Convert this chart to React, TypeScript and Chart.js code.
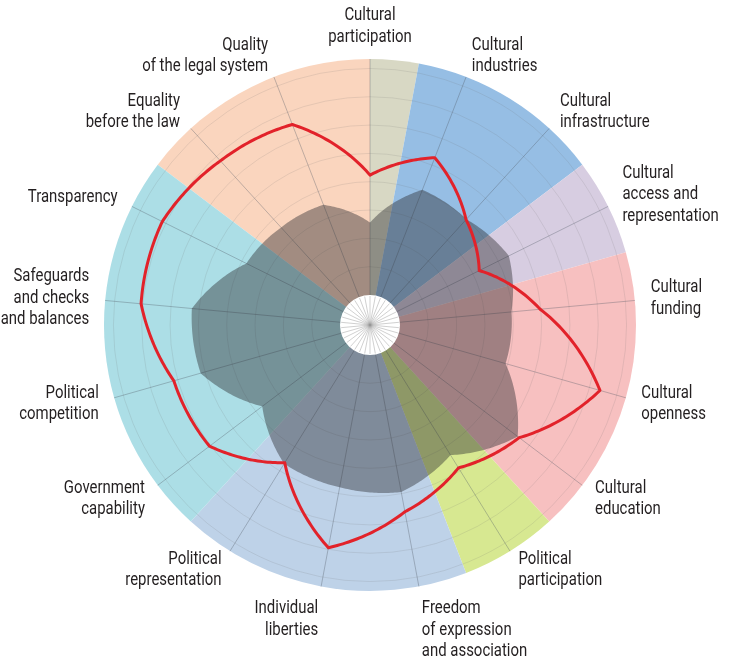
import React, { useEffect, useRef } from 'react';
import { Chart, registerables } from 'chart.js';

Chart.register(...registerables);

// ---- data ----
const categories: string[][] = [
  ['Cultural', 'participation'],
  ['Cultural', 'industries'],
  ['Cultural', 'infrastructure'],
  ['Cultural', 'access and', 'representation'],
  ['Cultural', 'funding'],
  ['Cultural', 'openness'],
  ['Cultural', 'education'],
  ['Political', 'participation'],
  ['Freedom', 'of expression', 'and association'],
  ['Individual', 'liberties'],
  ['Political', 'representation'],
  ['Government', 'capability'],
  ['Political', 'competition'],
  ['Safeguards', 'and checks', 'and balances'],
  ['Transparency'],
  ['Equality', 'before the law'],
  ['Quality', 'of the legal system'],
];

// red outline series
const redValues = [50.8, 63.3, 47.7, 39.0, 59.7, 88.6, 66.5, 58.5, 67.8, 83.3, 55.9, 72.5, 73.7, 84.7, 85.6, 81.4, 78.4];
// grey filled series
const grayValues = [30.7, 48.7, 47.9, 53.0, 47.5, 47.0, 65.7, 52.1, 59.3, 57.2, 56.4, 44.5, 61.9, 63.1, 45.8, 43.2, 41.9];

// concentric ring values
const ringTicks = [12, 24, 36, 48, 60, 72, 84, 96];
const scaleMin = -12.7;
const scaleMax = 100;

// background sector groups (bounds in category-index units)
const groupBounds = [-2.5, 0, 0.5, 2.5, 3.5, 6.5, 7.5, 10.5, 14.5];
const groupColors = ['#fad5be', '#d8d8c4', '#96bee4', '#d7cde1', '#f7c0c0', '#d7e891', '#bed2e8', '#acdee6'];

const GRAY_FILL = 'rgba(40,40,45,0.42)';
const RED = '#e2222a';
const LABEL_FONT = '18px Roboto, "Noto Sans", sans-serif';
const LABEL_SQUEEZE = 0.83;

function polarPath(ctx: CanvasRenderingContext2D, s: any, values: number[]) {
  const n = values.length;
  const steps = 30;
  ctx.beginPath();
  for (let i = 0; i < n; i++) {
    const v0 = values[i];
    const v1 = values[(i + 1) % n];
    for (let k = 0; k < steps; k++) {
      const t = k / steps;
      const p = s.getPointPositionForValue(i + t, v0 + (v1 - v0) * t);
      if (i === 0 && k === 0) ctx.moveTo(p.x, p.y);
      else ctx.lineTo(p.x, p.y);
    }
  }
  ctx.closePath();
}

const decorPlugin = {
  id: 'radarDecor',
  beforeDraw(chart: any) {
    const s = chart.scales.r;
    const ctx = chart.ctx as CanvasRenderingContext2D;
    const n = chart.data.labels.length;
    const R = s.drawingArea;
    ctx.save();
    for (let g = 0; g < groupColors.length; g++) {
      const from = groupBounds[g];
      const to = groupBounds[g + 1];
      const a0 = s.getPointPosition(from, R).angle;
      const a1 = a0 + ((to - from) * 2 * Math.PI) / n;
      ctx.beginPath();
      ctx.moveTo(s.xCenter, s.yCenter);
      ctx.arc(s.xCenter, s.yCenter, R, a0, a1, false);
      ctx.closePath();
      ctx.fillStyle = groupColors[g];
      ctx.fill();
    }
    ctx.restore();
  },
  afterDatasetsDraw(chart: any) {
    const s = chart.scales.r;
    const ctx = chart.ctx as CanvasRenderingContext2D;
    const n = chart.data.labels.length;
    const gray = chart.data.datasets[0].data as number[];
    const red = chart.data.datasets[1].data as number[];
    ctx.save();
    // grey filled shape
    polarPath(ctx, s, gray);
    ctx.fillStyle = GRAY_FILL;
    ctx.fill();
    // red outline
    polarPath(ctx, s, red);
    ctx.strokeStyle = RED;
    ctx.lineWidth = 3;
    ctx.lineJoin = 'round';
    ctx.stroke();
    // white hub
    const hubR = s.getDistanceFromCenterForValue(0);
    ctx.beginPath();
    ctx.arc(s.xCenter, s.yCenter, hubR, 0, Math.PI * 2);
    ctx.fillStyle = '#ffffff';
    ctx.fill();
    ctx.strokeStyle = 'rgba(150,150,150,0.45)';
    ctx.lineWidth = 1;
    for (let i = 0; i < n * 2; i++) {
      const p = s.getPointPosition(i / 2, hubR - 1);
      ctx.beginPath();
      ctx.moveTo(s.xCenter, s.yCenter);
      ctx.lineTo(p.x, p.y);
      ctx.stroke();
    }
    // labels
    ctx.font = LABEL_FONT;
    ctx.fillStyle = '#231f20';
    ctx.textBaseline = 'middle';
    const lh = 21.5;
    categories.forEach((lines, i) => {
      const p = s.getPointPosition(i, s.drawingArea + 16);
      const ang = (i * 2 * Math.PI) / n;
      const sin = Math.sin(ang);
      const cos = Math.cos(ang);
      ctx.textAlign = sin > 0.01 ? 'left' : sin < -0.01 ? 'right' : 'center';
      const h = lines.length * lh;
      let top: number;
      if (cos > 0.99) top = p.y - h + 5;
      else if (cos < -0.95) top = p.y - 4;
      else top = p.y - cos * h * 0.15 - h / 2;
      lines.forEach((line, j) => {
        ctx.save();
        ctx.translate(p.x, top + lh * (j + 0.5));
        ctx.scale(LABEL_SQUEEZE, 1);
        ctx.fillText(line, 0, 0);
        ctx.restore();
      });
    });
    ctx.restore();
  },
};

export default function App() {
  const canvasRef = useRef<HTMLCanvasElement | null>(null);

  useEffect(() => {
    const canvas = canvasRef.current;
    if (!canvas) return;
    const chart = new Chart(canvas, {
      type: 'radar',
      data: {
        labels: categories.map((c) => c.join(' ')),
        datasets: [
          {
            label: 'Grey',
            data: grayValues,
            showLine: false,
            pointRadius: 0,
            borderWidth: 0,
            backgroundColor: 'transparent',
            fill: false,
          },
          {
            label: 'Red',
            data: redValues,
            showLine: false,
            pointRadius: 0,
            borderWidth: 0,
            backgroundColor: 'transparent',
            fill: false,
          },
        ],
      },
      options: {
        responsive: false,
        animation: false,
        events: [],
        layout: { padding: { left: 104, right: 93, top: 59, bottom: 76 } },
        plugins: { legend: { display: false }, tooltip: { enabled: false } },
        scales: {
          r: {
            min: scaleMin,
            max: scaleMax,
            startAngle: 0,
            ticks: { display: false },
            afterBuildTicks: (scale: any) => {
              scale.ticks = ringTicks.map((v) => ({ value: v }));
            },
            grid: { circular: true, color: 'rgba(110,110,110,0.15)', lineWidth: 1 },
            angleLines: { color: 'rgba(80,90,100,0.35)', lineWidth: 1 },
            pointLabels: { display: false },
          },
        },
      },
      plugins: [decorPlugin],
    } as any);
    return () => chart.destroy();
  }, []);

  return (
    <div style={{ position: 'absolute', left: 0, top: 0, width: 729, height: 667, background: '#fff' }}>
      <canvas ref={canvasRef} width={729} height={667} style={{ display: 'block' }} />
    </div>
  );
}
